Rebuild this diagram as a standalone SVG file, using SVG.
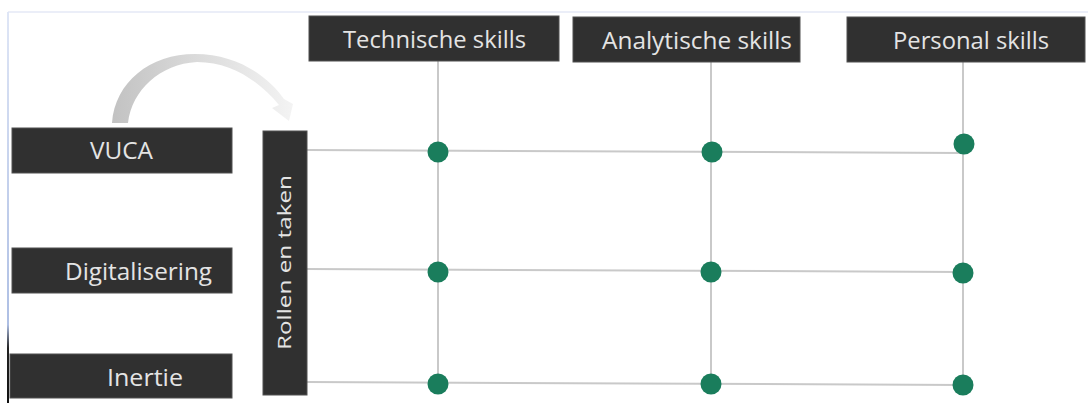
<svg xmlns="http://www.w3.org/2000/svg" width="1088" height="403" viewBox="0 0 1088 403">
<style>
.box{fill:#303030;stroke:#505050;stroke-width:1}
.lbl{font-family:"Open Sans","Liberation Sans",sans-serif;font-size:24px;fill:#e4e4e4}
.ln{stroke:#c9c9c9;stroke-width:2;fill:none}
.dot{fill:#1a7d5c}
</style>
<defs>
<linearGradient id="arcG" x1="112" y1="0" x2="295" y2="0" gradientUnits="userSpaceOnUse">
<stop offset="0" stop-color="#c2c2c2"/>
<stop offset="0.45" stop-color="#dadada"/>
<stop offset="1" stop-color="#f4f4f4"/>
</linearGradient>
<linearGradient id="edgeG" x1="0" y1="12" x2="0" y2="403" gradientUnits="userSpaceOnUse">
<stop offset="0" stop-color="#dfe6f6"/>
<stop offset="0.8" stop-color="#aebfe4"/>
<stop offset="0.86" stop-color="#222"/>
<stop offset="1" stop-color="#111"/>
</linearGradient>
</defs>
<rect width="1088" height="403" fill="#fff"/>
<line x1="8" y1="12" x2="1088" y2="12" stroke="#ebeef8" stroke-width="2"/>
<line x1="8" y1="12" x2="8" y2="403" stroke="url(#edgeG)" stroke-width="2"/>
<path id="curvedArrow" d="M112,123 C115,82 150,54 195,54 C235,54 266,74 284,99 L293,104 L289,121 L272,108 L279,105 C260,82 232,62 197,62 C160,64 132,90 128,123 Z" fill="url(#arcG)"/>
<g id="connectors">
<line class="ln" x1="307" y1="150" x2="963" y2="153"/>
<line class="ln" x1="307" y1="269" x2="963" y2="272"/>
<line class="ln" x1="307" y1="382" x2="963" y2="385"/>
<line class="ln" x1="438" y1="61" x2="438" y2="384"/>
<line class="ln" x1="711" y1="62" x2="711" y2="384"/>
<line class="ln" x1="963" y1="62" x2="963" y2="385"/>
</g>
<g id="n-technische"><rect class="box" x="309" y="16" width="250" height="45"/><text class="lbl" x="343" y="48" textLength="183" lengthAdjust="spacingAndGlyphs">Technische skills</text></g>
<g id="n-analytische"><rect class="box" x="573" y="17" width="227" height="45"/><text class="lbl" x="602" y="49" textLength="190" lengthAdjust="spacingAndGlyphs">Analytische skills</text></g>
<g id="n-personal"><rect class="box" x="847" y="17" width="238" height="45"/><text class="lbl" x="893" y="49" textLength="156" lengthAdjust="spacingAndGlyphs">Personal skills</text></g>
<g id="n-vuca"><rect class="box" x="12" y="128" width="220" height="45"/><text class="lbl" x="90" y="159" textLength="63" lengthAdjust="spacingAndGlyphs">VUCA</text></g>
<g id="n-digitalisering"><rect class="box" x="12" y="248" width="220" height="45"/><text class="lbl" x="65" y="280" textLength="147" lengthAdjust="spacingAndGlyphs">Digitalisering</text></g>
<g id="n-inertie"><rect class="box" x="10" y="354" width="222" height="44"/><text class="lbl" x="107" y="386" textLength="76" lengthAdjust="spacingAndGlyphs">Inertie</text></g>
<g id="n-rollen"><rect class="box" x="263" y="131" width="44" height="264"/><text class="lbl" style="font-size:19px" transform="translate(291,350) rotate(-90)" x="0" y="0" textLength="175" lengthAdjust="spacingAndGlyphs">Rollen en taken</text></g>
<g id="dots">
<circle class="dot" cx="438" cy="152" r="10.5"/>
<circle class="dot" cx="712" cy="152" r="10.5"/>
<circle class="dot" cx="964" cy="144" r="10.5"/>
<circle class="dot" cx="438" cy="272" r="10.5"/>
<circle class="dot" cx="711" cy="272" r="10.5"/>
<circle class="dot" cx="963" cy="273" r="10.5"/>
<circle class="dot" cx="438" cy="384" r="10.5"/>
<circle class="dot" cx="711" cy="384" r="10.5"/>
<circle class="dot" cx="963" cy="385" r="10.5"/>
</g>
</svg>
